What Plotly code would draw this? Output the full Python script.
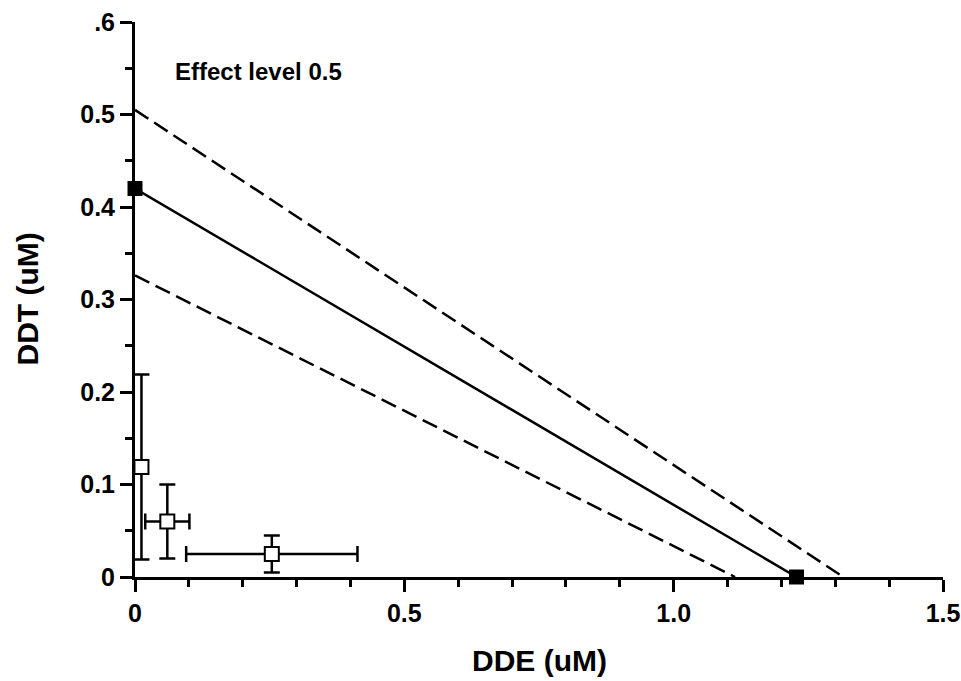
import plotly.graph_objects as go

# Isobole lines (DDE, DDT)
line_x = [0.0, 1.228]
line_y = [0.42, 0.0]
upper_x = [0.0, 1.315]
upper_y = [0.505, 0.0]
lower_x = [0.0, 1.114]
lower_y = [0.326, 0.0]

# Single agent EC50 points (filled)
ec_x = [0.0, 1.228]
ec_y = [0.42, 0.0]

# Mixture points (open) with errors
mix_x = [0.012, 0.060, 0.254]
mix_y = [0.119, 0.060, 0.025]
mix_xerr = [0.0, 0.041, 0.159]
mix_yerr = [0.100, 0.040, 0.020]

x_ticks = [0, 0.5, 1.0, 1.5]
x_ticktext = ["0", "0.5", "1.0", "1.5"]
y_ticks = [0, 0.1, 0.2, 0.3, 0.4, 0.5, 0.6]
y_ticktext = ["0", "0.1", "0.2", "0.3", "0.4", "0.5", ".6"]

FONT = "Liberation Sans, Arial, sans-serif"
W, H = 961, 681
ML, MR, MT, MB = 135, 18, 22, 104

fig = go.Figure()
fig.add_trace(go.Scatter(x=upper_x, y=upper_y, mode="lines",
                         line=dict(color="black", width=2.5, dash="16px,7px"), cliponaxis=False))
fig.add_trace(go.Scatter(x=lower_x, y=lower_y, mode="lines",
                         line=dict(color="black", width=2.5, dash="16px,7px"), cliponaxis=False))
fig.add_trace(go.Scatter(x=line_x, y=line_y, mode="lines",
                         line=dict(color="black", width=2.5), cliponaxis=False))
fig.add_trace(go.Scatter(x=ec_x, y=ec_y, mode="markers",
                         marker=dict(symbol="square", size=15, color="black"), cliponaxis=False))
fig.add_trace(go.Scatter(
    x=mix_x, y=mix_y, mode="markers",
    marker=dict(symbol="square", size=14, color="white", line=dict(color="black", width=2)),
    error_x=dict(type="data", array=mix_xerr, color="black", thickness=2.5, width=8),
    error_y=dict(type="data", array=mix_yerr, color="black", thickness=2.5, width=8),
    cliponaxis=False))

fig.add_annotation(x=0.07, y=0.547, xref="x", yref="y", text="<b>Effect level 0.5</b>",
                   showarrow=False, xanchor="left", yanchor="middle",
                   font=dict(family=FONT, size=24, color="black"))

pw = W - ML - MR
ph = H - MT - MB
# Axis titles placed in paper coordinates
fig.add_annotation(x=0.5, y=-(660 - (H - MB)) / ph, xref="paper", yref="paper",
                   text="<b>DDE (uM)</b>", showarrow=False, xanchor="center", yanchor="middle",
                   font=dict(family=FONT, size=30, color="black"))
fig.add_annotation(x=-(ML - 27) / pw, y=0.5, xref="paper", yref="paper",
                   text="<b>DDT (uM)</b>", showarrow=False, xanchor="center", yanchor="middle",
                   textangle=-90, font=dict(family=FONT, size=30, color="black"))

fig.update_layout(
    width=W, height=H,
    margin=dict(l=ML, r=MR, t=MT, b=MB),
    paper_bgcolor="white", plot_bgcolor="white",
    showlegend=False,
    font=dict(family=FONT, color="black"),
)
fig.update_xaxes(
    range=[0, 1.5], tickvals=x_ticks, ticktext=x_ticktext, automargin=False,
    showgrid=False, zeroline=False, showline=True, linecolor="black", linewidth=3,
    ticks="outside", ticklen=12, tickwidth=2.5, tickcolor="black",
    minor=dict(dtick=0.1, ticks="outside", ticklen=7, tickwidth=2.5, tickcolor="black", showgrid=False),
    tickfont=dict(family=FONT, size=25, color="black", weight="bold"),
)
fig.update_yaxes(
    range=[0, 0.6], tickvals=y_ticks, ticktext=y_ticktext, automargin=False,
    showgrid=False, zeroline=False, showline=True, linecolor="black", linewidth=3,
    ticks="outside", ticklen=12, tickwidth=2.5, tickcolor="black",
    minor=dict(dtick=0.05, ticks="outside", ticklen=7, tickwidth=2.5, tickcolor="black", showgrid=False),
    tickfont=dict(family=FONT, size=25, color="black", weight="bold"),
)

fig.write_html("out.html")
